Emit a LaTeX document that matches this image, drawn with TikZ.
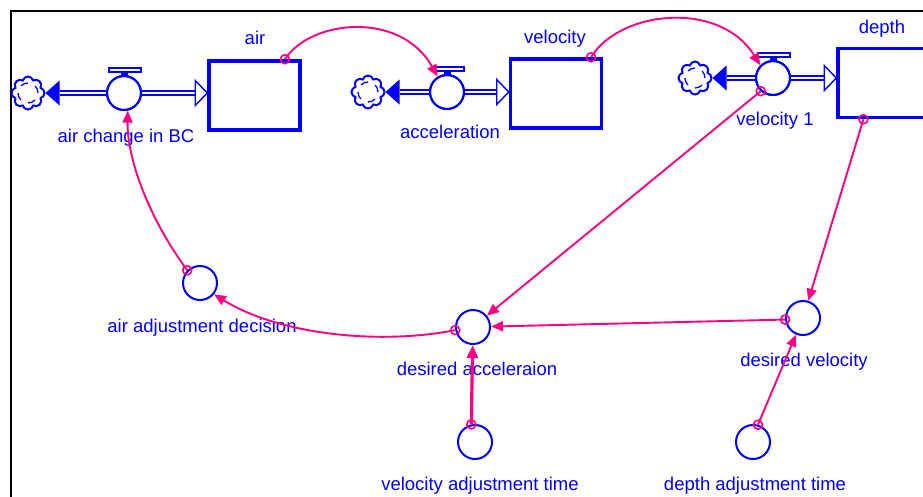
\documentclass[tikz,border=0pt]{standalone}
\usepackage{fontspec}
\setmainfont{Liberation Sans}
\usetikzlibrary{arrows.meta,shapes.symbols}
\definecolor{sdblue}{RGB}{0,0,255}
\definecolor{sdpink}{RGB}{255,0,128}
\begin{document}
\begin{tikzpicture}[x=1pt,y=-1pt,
  lbl/.style={text=sdblue, font=\fontsize{18.5}{20}\selectfont, anchor=base, inner sep=0},
  stock/.style={draw=sdblue, line width=3.5pt, minimum width=91pt, minimum height=69pt, inner sep=0},
  valve/.style={circle, draw=sdblue, line width=2pt, minimum size=34pt, inner sep=0, fill=white},
  aux/.style={circle, draw=sdblue, line width=2pt, minimum size=34pt, inner sep=0},
  sdcloud/.style={cloud, cloud puffs=8, aspect=1, draw=sdblue, line width=2pt, minimum width=33pt, minimum height=33pt, inner sep=0},
  pipe/.style={draw=sdblue, double=white, double distance=2pt, line width=2.2pt},
  conn/.style={draw=sdpink, line width=1.9pt, -{Triangle[length=12pt,width=10pt]}},
  tconn/.style={draw=sdpink, line width=3.2pt, -{Triangle[length=13pt,width=11pt]}},
  orig/.style={draw=sdpink, line width=1.6pt}
]
\useasboundingbox (0,0) rectangle (923,496);
\clip (0,0) rectangle (923,496);
\fill[white] (0,0) rectangle (923,496);
\draw[black, line width=2.2pt] (11,500) -- (11,11) -- (930,11);

% stocks
\node[stock] (air) at (254.5,95.5) {};
\node[stock] (vel) at (556,93.5) {};
\node[stock] (depth) at (883.5,83) {};
\node[lbl] (airl) at (255,44) {air};
\node[lbl] (vell) at (555,43) {velocity};
\node[lbl] (depthl) at (882,33) {depth};

% clouds
\node[sdcloud] (c1) at (28,93) {};
\node[sdcloud] (c2) at (368,92) {};
\node[sdcloud] (c3) at (695,78) {};
\foreach \c in {c1,c2,c3} {
  \foreach \a in {0,90,180,270}
    \draw[sdblue, line width=1.3pt] (\c.center) ++(\a:10pt) arc[start angle=\a, end angle=\a+45, radius=10pt];
}

% valves
\node[valve] (acbc) at (124,93) {};
\node[valve] (acc) at (447,92) {};
\node[valve] (vel1) at (773,78) {};
\foreach \v in {acbc,acc,vel1} {
  \draw[sdblue, line width=1.4pt, fill=white] ([xshift=-15pt,yshift=21pt]\v.center) rectangle ([xshift=17pt,yshift=25pt]\v.center);
  \draw[sdblue, line width=1pt, fill=sdblue] ([xshift=-3pt]\v.north) rectangle ([xshift=3pt,yshift=4pt]\v.north);
}
\node[lbl] (acbcl) at (126,142) {air change in BC};
\node[lbl] (accl) at (450,138) {acceleration};
\node[lbl] (vel1l) at (775,125) {velocity 1};

% pipes
\draw[pipe] ([xshift=14pt]c1.east) -- (acbc.west);
\fill[sdblue] (c1.east) -- ++(14,-12.5) -- ++(0,25) -- cycle;
\draw[pipe] (acbc.east) -- ([xshift=-12pt]acbc.east -| air.west);
\draw[sdblue, fill=white, line width=1.4pt] (acbc.east -| air.west) -- ++(-12,-12.5) -- ++(0,25) -- cycle;

\draw[pipe] ([xshift=14pt]c2.east) -- (acc.west);
\fill[sdblue] (c2.east) -- ++(14,-12.5) -- ++(0,25) -- cycle;
\draw[pipe] (acc.east) -- ([xshift=-12pt]acc.east -| vel.west);
\draw[sdblue, fill=white, line width=1.4pt] (acc.east -| vel.west) -- ++(-12,-12.5) -- ++(0,25) -- cycle;

\draw[pipe] ([xshift=14pt]c3.east) -- (vel1.west);
\fill[sdblue] (c3.east) -- ++(14,-12.5) -- ++(0,25) -- cycle;
\draw[pipe] (vel1.east) -- ([xshift=-12pt]vel1.east -| depth.west);
\draw[sdblue, fill=white, line width=1.4pt] (vel1.east -| depth.west) -- ++(-12,-12.5) -- ++(0,25) -- cycle;

% redraw valves on top of pipes
\foreach \v in {acbc,acc,vel1} \draw[sdblue, line width=2pt] (\v) circle[radius=17pt];

% auxiliaries
\node[aux] (aad) at (200,283) {};
\node[aux] (dacc) at (473,327) {};
\node[aux] (vat) at (475,442) {};
\node[aux] (dat) at (753,442) {};
\node[aux] (dvel) at (803,318) {};
\node[lbl] (aadl) at (202,332) {air adjustment decision};
\node[lbl] (daccl) at (477,375) {desired acceleraion};
\node[lbl] (dvell) at (804,366) {desired velocity};
\node[lbl] (vatl) at (480,490) {velocity adjustment time};
\node[lbl] (datl) at (755,490) {depth adjustment time};

% connectors
\draw[conn] (air.50) .. controls (310,20) and (400,10) .. (acc.121);
\draw[conn] (vel.46) .. controls (620,10) and (720,0) .. (vel1.135);
\draw[conn] (vel1.227) -- (dacc);
\draw[conn] (depth.241) -- (dvel);
\draw[conn] (dvel.185) -- (dacc);
\draw[conn] (dacc.190) .. controls (380,345) and (280,335) .. (aad.321);
\draw[conn] (aad.135) .. controls (150,220) and (127,160) .. (acbc.282);
\draw[tconn] (vat.102) -- (dacc);
\draw[conn] (dat.74) -- (dvel);

\foreach \p in {air.50, vel.46, vel1.227, depth.241, dvel.185, dacc.190, aad.135, vat.102, dat.74}
  \draw[orig] (\p) circle[radius=4.5pt];
\end{tikzpicture}
\end{document}
